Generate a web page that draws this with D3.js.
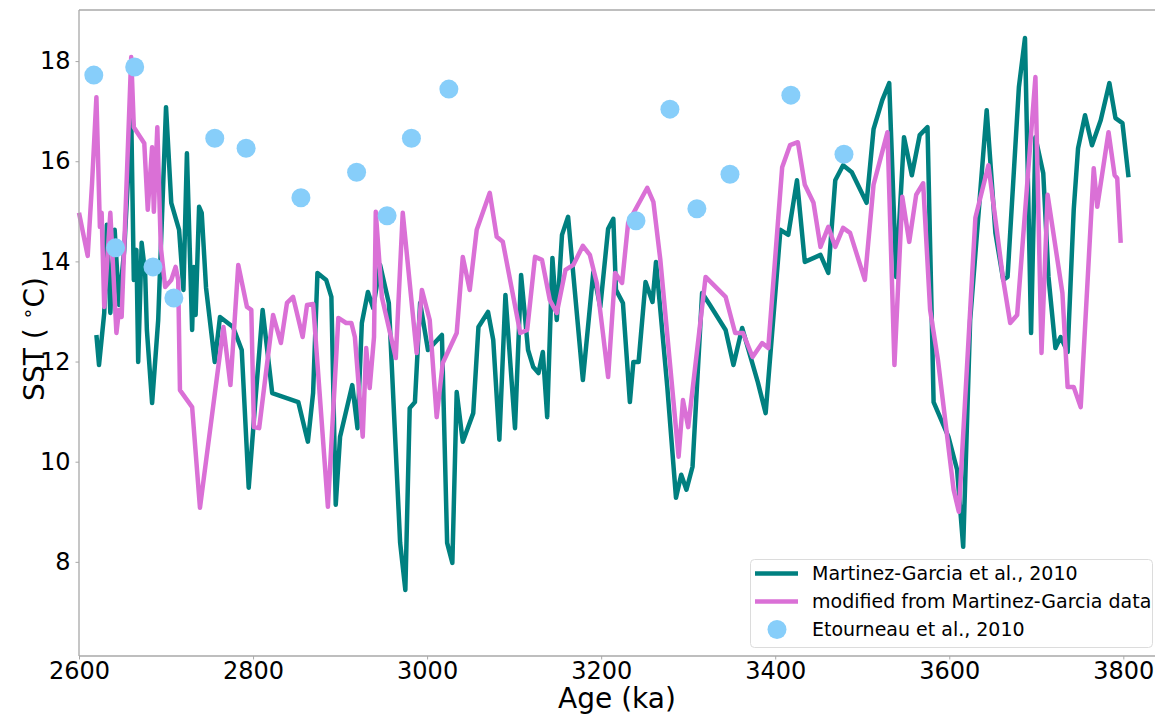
<!DOCTYPE html>
<html><head><meta charset="utf-8">
<script src="https://cdn.jsdelivr.net/npm/d3@7"></script>
<style>
html,body{margin:0;padding:0;background:#fff;}
svg{display:block;font-family:"DejaVu Sans",sans-serif;}
</style></head>
<body><svg id="chart" width="1155" height="714"></svg>
<script>
const xTicks = [2600,2800,3000,3200,3400,3600,3800];
const yTicks = [8,10,12,14,16,18];

const mgAge = [2620,2623,2629,2632,2636,2641,2646,2652,2660,2663,2666,2668,2672,2676,2678,2684,2691,2700,2706,2715,2720,2724,2730,2732,2734,2738,2741,2746,2756,2762,2777,2787,2795,2803,2811,2822,2852,2863,2869,2874,2884,2890,2895,2900,2914,2920,2925,2932,2938,2946,2956,2969,2975,2980,2986,2992,3001,3017,3023,3029,3034,3041,3053,3059,3070,3076,3083,3090,3101,3108,3116,3122,3128,3133,3138,3144,3149,3155,3162,3179,3191,3199,3208,3214,3217,3225,3233,3237,3243,3251,3259,3263,3276,3286,3292,3298,3305,3316,3325,3343,3352,3362,3380,3389,3406,3415,3425,3434,3452,3461,3469,3478,3488,3505,3513,3523,3531,3539,3548,3557,3566,3575,3582,3599,3609,3616,3624,3643,3653,3662,3667,3680,3687,3694,3699,3708,3714,3722,3728,3736,3743,3748,3756,3764,3774,3784,3791,3799,3806];
const mgSST = [12.53,11.93,12.97,14.73,12.97,14.63,13.13,14.23,16.92,13.63,14.23,11.99,14.37,13.77,12.63,11.17,12.83,17.08,15.17,14.63,13.43,16.16,12.63,13.89,12.93,15.09,14.97,13.47,11.99,12.89,12.69,12.23,9.48,11.29,13.03,11.37,11.19,10.40,11.37,13.77,13.63,13.29,9.14,10.50,11.53,10.67,12.77,13.39,13.07,13.93,13.17,8.38,7.44,11.07,11.19,13.17,12.23,12.53,8.38,7.98,11.39,10.40,10.97,12.69,12.99,12.43,10.44,13.33,10.67,13.73,12.23,11.89,11.77,12.19,10.89,14.07,12.83,14.53,14.89,11.63,13.79,13.09,14.65,14.85,13.43,13.17,11.19,11.99,11.99,13.59,13.19,13.99,11.49,9.28,9.74,9.44,9.90,13.37,13.13,12.63,11.93,12.67,11.59,10.97,14.63,14.53,15.62,13.99,14.13,13.77,15.62,15.92,15.78,15.17,16.64,17.22,17.56,13.69,16.48,15.72,16.52,16.68,11.19,10.50,9.84,8.30,12.83,17.02,14.57,13.63,13.69,17.48,18.46,12.57,16.48,15.76,13.69,12.27,12.49,12.19,15.03,16.26,16.92,16.32,16.82,17.56,16.86,16.76,15.68];

const modAge = [2600,2610,2615,2620,2624,2626,2629,2636,2643,2646,2649,2660,2663,2675,2679,2684,2686,2690,2694,2699,2706,2711,2714,2716,2730,2739,2766,2774,2783,2793,2798,2801,2807,2823,2832,2839,2846,2857,2862,2869,2886,2898,2907,2913,2917,2926,2930,2934,2939,2941,2948,2964,2972,2988,2994,3003,3011,3018,3034,3041,3049,3057,3072,3080,3087,3107,3115,3124,3132,3141,3149,3159,3168,3179,3187,3195,3202,3208,3216,3224,3231,3253,3260,3268,3289,3294,3300,3320,3343,3354,3363,3374,3385,3392,3408,3417,3426,3434,3444,3452,3461,3469,3478,3486,3503,3513,3529,3537,3546,3554,3562,3570,3578,3587,3605,3611,3630,3645,3662,3670,3678,3699,3706,3713,3730,3736,3743,3751,3766,3770,3783,3790,3793,3797];
const modSST = [14.97,14.11,15.56,17.28,14.69,14.97,13.09,14.97,12.57,13.03,12.89,18.08,16.68,16.36,15.03,16.28,14.99,16.68,14.29,13.49,13.63,13.89,13.63,11.43,11.09,9.08,12.69,11.53,13.93,13.09,13.03,10.69,10.67,12.93,12.37,13.17,13.29,12.49,13.13,13.15,9.10,12.87,12.77,12.77,12.49,10.50,12.27,11.47,12.49,14.99,13.29,12.07,14.97,12.17,13.43,12.83,10.89,11.97,12.57,14.09,13.43,14.63,15.37,14.49,14.39,12.57,12.63,14.09,14.03,13.23,12.97,13.83,13.93,14.31,14.13,13.57,12.57,11.69,13.77,13.57,14.77,15.47,15.19,14.03,10.10,11.23,10.69,13.69,13.29,12.57,12.57,12.09,12.37,12.27,15.88,16.32,16.38,15.53,15.17,14.29,14.69,14.29,14.67,14.57,13.63,15.53,16.58,11.93,15.29,14.39,15.33,15.56,13.03,12.03,9.44,9.00,14.87,15.92,13.63,12.77,12.93,17.68,12.17,15.33,13.37,11.49,11.49,11.09,15.86,15.09,16.58,15.72,15.66,14.37];

const etAge = [2617,2642,2664,2685,2709,2756,2792,2855,2919,2954,2982,3025,3240,3279,3310,3348,3418,3479];
const etSST = [17.72,14.27,17.88,13.89,13.27,16.46,16.26,15.27,15.78,14.91,16.46,17.44,14.81,17.04,15.05,15.74,17.32,16.14];

const legendLabels = ["Martinez-Garcia et al., 2010","modified from Martinez-Garcia data","Etourneau et al., 2010"];
const colTeal = "#008080", colPink = "#da70d6", colDot = "#87cefa";

const L = 79, R = 1155, T = 10, B = 656;
const svg = d3.select("#chart");
const x = d3.scaleLinear().domain([2600, 3836.4]).range([L, R]);
const y = d3.scaleLinear().domain([6.12, 19.02]).range([B, T]);

const mg = mgAge.map((a,i)=>({a, v: mgSST[i]}));
const md = modAge.map((a,i)=>({a, v: modSST[i]}));
const et = etAge.map((a,i)=>({a, v: etSST[i]}));

const line = d3.line().x(d=>x(d.a)).y(d=>y(d.v));
const plot = svg.append("g");
plot.append("path").datum(mg).attr("d", line).attr("fill","none")
  .attr("stroke", colTeal).attr("stroke-width", 4.5).attr("stroke-linejoin","round");
plot.append("path").datum(md).attr("d", line).attr("fill","none")
  .attr("stroke", colPink).attr("stroke-width", 4.5).attr("stroke-linejoin","round");
plot.selectAll("circle.et").data(et).enter().append("circle").attr("class","et")
  .attr("cx", d=>x(d.a)).attr("cy", d=>y(d.v)).attr("r", 9.5).attr("fill", colDot);

// spines
const spine = "#a8a8a8";
svg.append("line").attr("x1",L).attr("x2",L).attr("y1",T).attr("y2",B).attr("stroke",spine).attr("stroke-width",1.3);
svg.append("line").attr("x1",L).attr("x2",R).attr("y1",B).attr("y2",B).attr("stroke",spine).attr("stroke-width",1.3);
svg.append("line").attr("x1",L).attr("x2",R).attr("y1",T).attr("y2",T).attr("stroke",spine).attr("stroke-width",1.3);

const xAxis = svg.append("g").attr("transform",`translate(0,${B})`)
  .call(d3.axisBottom(x).tickValues(xTicks).tickFormat(d3.format("d")).tickSizeInner(3.5).tickSizeOuter(0).tickPadding(2));
const yAxis = svg.append("g").attr("transform",`translate(${L},0)`)
  .call(d3.axisLeft(y).tickValues(yTicks).tickFormat(d3.format("d")).tickSizeInner(3.5).tickSizeOuter(0).tickPadding(5));
[xAxis,yAxis].forEach(g=>{
  g.select(".domain").remove();
  g.selectAll(".tick line").attr("stroke",spine);
  g.selectAll(".tick text").attr("fill","#000").style("font-size","24px").style("font-family","DejaVu Sans");
});

// axis labels
svg.append("text").attr("x",(L+R)/2).attr("y",708).attr("text-anchor","middle")
  .style("font-size","28px").text("Age (ka)");
const yl = svg.append("text").attr("transform",`translate(44,${(T+B)/2 + 6}) rotate(-90)`)
  .attr("text-anchor","middle").style("font-size","28px");
yl.append("tspan").text("SST ( ");
yl.append("tspan").attr("dy",-10).style("font-size","19px").text("∘");
yl.append("tspan").attr("dy",10).text("C)");

// legend
const lg = svg.append("g");
lg.append("rect").attr("x",750.5).attr("y",559.5).attr("width",402).attr("height",88).attr("rx",4)
  .attr("fill","#fff").attr("fill-opacity",0.8).attr("stroke","#dcdcdc").attr("stroke-width",1);
const rows = [573.5, 601.5, 629.5];
lg.append("line").attr("x1",755).attr("x2",798).attr("y1",rows[0]).attr("y2",rows[0]).attr("stroke",colTeal).attr("stroke-width",4.5);
lg.append("line").attr("x1",755).attr("x2",798).attr("y1",rows[1]).attr("y2",rows[1]).attr("stroke",colPink).attr("stroke-width",4.5);
lg.append("circle").attr("cx",777).attr("cy",rows[2]).attr("r",9.5).attr("fill",colDot);
legendLabels.forEach((t,i)=>{
  lg.append("text").attr("x",812).attr("y",rows[i]+6.8).style("font-size","19px").attr("fill","#000").text(t);
});
</script></body></html>
